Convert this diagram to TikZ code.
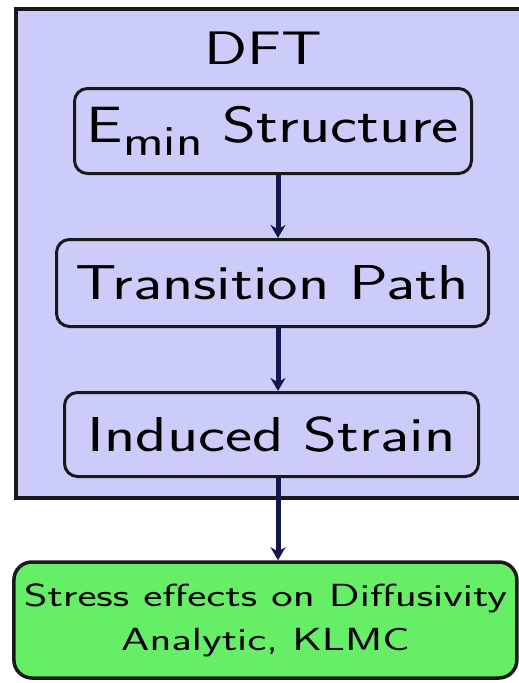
\documentclass[tikz,border=0pt]{standalone}
\usepackage{graphicx}
\usetikzlibrary{positioning, arrows.meta, calc}

\definecolor{dftblue}{RGB}{204,204,250}
\definecolor{klmcgreen}{RGB}{102,238,102}
\definecolor{arrownavy}{RGB}{22,22,78}
\newcommand{\wide}[2][1.32]{\scalebox{#1}[1]{#2}}

\begin{document}
\begin{tikzpicture}[
    x=1pt, y=-1pt,
    every node/.style={font=\sffamily, inner sep=0pt},
    group/.style={draw=black!90, line width=4pt, fill=dftblue, anchor=north west},
    stage/.style={draw=black!90, line width=3pt, rounded corners=13pt, fill=dftblue,
                  font=\sffamily\fontsize{49}{49}\selectfont},
    result/.style={draw=black!90, line width=3.5pt, rounded corners=18pt, fill=klmcgreen,
                   align=center, font=\sffamily\fontsize{32}{44}\selectfont},
    arr/.style={-{Stealth[length=13pt, width=15pt]}, line width=5pt, draw=arrownavy},
]
\useasboundingbox (0,0) rectangle (519,683);

% ── DFT group ────────────────────────────────────────────────────────────────
\node[group, minimum width=516pt, minimum height=489pt] (dft) at (14,7) {};
\node[font=\sffamily\fontsize{47}{47}\selectfont] (title) at (263,48) {\wide[1.35]{DFT}};

% ── Stages ───────────────────────────────────────────────────────────────────
\node[stage, minimum width=397pt, minimum height=85pt, font=\sffamily\fontsize{51}{51}\selectfont]
      (emin) at (273,131)
      {\wide[1.27]{E\raisebox{-13pt}{\fontsize{43}{43}\selectfont min} Structure}};
\node[stage, minimum width=432pt, minimum height=87pt] (trans)   at (272.5,283)   {\wide{Transition Path}};
\node[stage, minimum width=414pt, minimum height=84pt] (induced) at (271.5,434.5) {\wide{Induced Strain}};

% ── Result ───────────────────────────────────────────────────────────────────
\node[result, minimum width=503pt, minimum height=116pt] (stress) at (265.4,620)
      {\wide[1.42]{Stress effects on Diffusivity}\\\wide[1.42]{Analytic, KLMC}};

% ── Arrows ───────────────────────────────────────────────────────────────────
\coordinate (axis) at (278,0);
\draw[arr] (emin.south -| axis)    -- (trans.north -| axis);
\draw[arr] (trans.south -| axis)   -- (induced.north -| axis);
\draw[arr] (induced.south -| axis) -- (stress.north -| axis);

\end{tikzpicture}
\end{document}
